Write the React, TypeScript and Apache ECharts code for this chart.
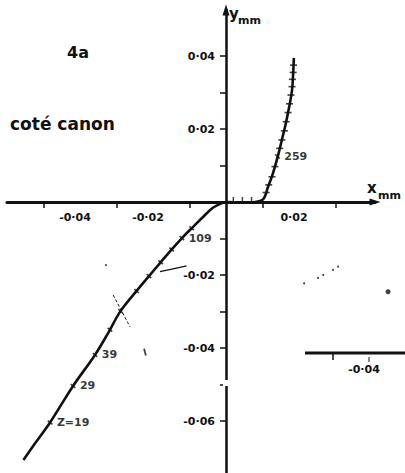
import React, { useEffect, useRef } from "react";
import * as echarts from "echarts";

// Displacement trajectory (x, y in mm), from Z=19 up to beyond station 259
const trajectory: [number, number][] = [
  [-0.0555, -0.0707], [-0.0523, -0.0661], [-0.0482, -0.0604], [-0.0419, -0.0504],
  [-0.0359, -0.0419], [-0.0323, -0.0359], [-0.0289, -0.0299], [-0.0242, -0.024],
  [-0.0211, -0.0203], [-0.0178, -0.0164], [-0.0148, -0.0129], [-0.0118, -0.0096],
  [-0.009, -0.0068], [-0.0063, -0.0041], [-0.0036, -0.0016], [-0.0016, -0.0005],
  [0, 0], [0.005, -0.0002], [0.0099, 0.0005], [0.0115, 0.0041], [0.0129, 0.008],
  [0.0143, 0.0129], [0.0153, 0.017], [0.0164, 0.0216], [0.0173, 0.026],
  [0.0181, 0.0307], [0.0184, 0.0353], [0.0186, 0.0395],
];

// Station marks along the lower branch
const lowerStations: [number, number][] = [
  [-0.0094, -0.0072], [-0.0149, -0.013], [-0.0179, -0.0165], [-0.0211, -0.0203],
  [-0.0245, -0.0244], [-0.0289, -0.0299], [-0.0318, -0.035],
];

// Station marks along the upper branch
const upperStations: [number, number][] = [
  [0.0185, 0.0375], [0.0184, 0.0355], [0.0182, 0.0336], [0.0181, 0.0316],
  [0.0178, 0.0293], [0.0174, 0.0269], [0.017, 0.0245], [0.0165, 0.022],
  [0.016, 0.0195], [0.0153, 0.017], [0.0147, 0.0147], [0.0134, 0.0097],
  [0.0126, 0.0069], [0.0117, 0.0047], [0.011, 0.0026],
];

// Station marks on the flat stretch near the origin
const flatStations: [number, number][] = [[0.002, 0.0007], [0.0045, 0.0007], [0.007, 0.0007]];

// Numbered stations
const stationNames = ["109", "39", "29", "Z=19", "259"];
const stationPoints: [number, number][] = [
  [-0.0121, -0.0099], [-0.0359, -0.0419], [-0.0419, -0.0504], [-0.0482, -0.0604], [0.0141, 0.0125],
];

// Hand-drawn pointer towards the curve, and the crossing stroke
const pointerLine: [number, number][] = [[-0.0181, -0.0191], [-0.0145, -0.0183], [-0.0108, -0.0175]];
const crossStroke: [number, number][] = [[-0.0309, -0.0255], [-0.0263, -0.0342]];

// Small stray marks on the sheet
const specks: [number, number][] = [
  [-0.0329, -0.0173], [0.0214, -0.0223], [0.0252, -0.0208], [0.0266, -0.02],
  [0.0293, -0.0186], [0.0307, -0.0177],
];
const blot: [number, number][] = [[0.0444, -0.0246]];
const nick: [number, number][] = [[-0.0222, -0.0411]];

// Axis ticks and labels
const xTickValues = [-0.05, -0.03, -0.01, 0.01, 0.03];
const xLabelValues = [-0.04, -0.02, 0.02];
const yTickValues = [0.04, 0.03, 0.02, 0.01, -0.01, -0.02, -0.03, -0.04, -0.05, -0.06];
const yLabelValues = [0.04, 0.02, -0.02, -0.04, -0.06];

const INK = "#111";
const FONT = "DejaVu Sans";
const PX_PER_MM = 3650;
const GRID = { left: 7, top: 10, width: 368, height: 463 };
const X_MIN = -0.06;
const ORIGIN_Y = 202;

const fmt = (v: number) => (v < 0 ? "-" : "") + Math.abs(v).toFixed(2).replace(".", "·");

export default function App() {
  const ref = useRef<HTMLDivElement>(null);

  useEffect(() => {
    if (!ref.current) return;
    const chart = echarts.init(ref.current, null, { renderer: "svg" });

    const xMax = X_MIN + GRID.width / PX_PER_MM;
    const yMax = (ORIGIN_Y - GRID.top) / PX_PER_MM;
    const yMin = yMax - GRID.height / PX_PER_MM;
    // axes cross at the origin: shift them in from the grid edges
    const originX = GRID.left - X_MIN * PX_PER_MM;
    const xAxisOffset = -(GRID.top + GRID.height - ORIGIN_Y);
    const yAxisOffset = -(originX - GRID.left);

    const tickMark = (size: number[], rotate: number) => ({
      type: "scatter",
      symbol: "rect",
      symbolSize: size,
      symbolRotate: rotate,
      itemStyle: { color: INK },
      silent: true,
      z: 4,
    });

    chart.setOption({
      animation: false,
      backgroundColor: "#fff",
      grid: {
        left: GRID.left,
        top: GRID.top,
        width: GRID.width,
        height: GRID.height,
        containLabel: false,
        outerBoundsMode: "none",
      },
      xAxis: {
        type: "value",
        min: X_MIN,
        max: xMax,
        position: "bottom",
        offset: xAxisOffset,
        axisLine: {
          onZero: false,
          symbol: ["none", "triangle"],
          symbolSize: [7, 11],
          lineStyle: { color: INK, width: 3 },
        },
        axisTick: {
          show: true,
          length: 6,
          customValues: xTickValues,
          lineStyle: { color: INK, width: 1.5 },
        },
        axisLabel: {
          customValues: xLabelValues,
          formatter: fmt,
          color: INK,
          fontFamily: FONT,
          fontWeight: "bold",
          fontSize: 11,
          margin: 10,
          padding: [0, 10, 0, 0],
        },
        splitLine: { show: false },
      },
      yAxis: {
        type: "value",
        min: yMin,
        max: yMax,
        position: "left",
        offset: yAxisOffset,
        axisLine: {
          onZero: false,
          symbol: ["none", "triangle"],
          symbolSize: [7, 11],
          lineStyle: { color: INK, width: 2.5 },
        },
        axisTick: {
          show: true,
          length: 6,
          customValues: yTickValues,
          lineStyle: { color: INK, width: 1.5 },
        },
        axisLabel: {
          customValues: yLabelValues,
          formatter: fmt,
          color: INK,
          fontFamily: FONT,
          fontWeight: "bold",
          fontSize: 11,
          margin: 11,
        },
        splitLine: { show: false },
      },
      series: [
        {
          type: "line",
          data: trajectory,
          smooth: 0.35,
          showSymbol: false,
          lineStyle: { color: INK, width: 2.6 },
          z: 3,
        },
        { ...tickMark([6, 1.6], -40), data: lowerStations },
        { ...tickMark([7, 1.6], 0), data: upperStations },
        { ...tickMark([1.4, 5], 0), data: flatStations },
        {
          ...tickMark([6, 1.6], -40),
          data: stationPoints.map((p, i) => ({ value: p, name: stationNames[i] })),
          label: {
            show: true,
            position: "right",
            distance: 4,
            formatter: "{b}",
            color: "#000",
            fontFamily: FONT,
            fontWeight: "bold",
            fontSize: 11,
          },
        },
        {
          type: "line",
          data: pointerLine,
          smooth: true,
          showSymbol: false,
          lineStyle: { color: INK, width: 1.3 },
          silent: true,
        },
        {
          type: "line",
          data: crossStroke,
          showSymbol: false,
          lineStyle: { color: INK, width: 1, type: [3, 2] },
          silent: true,
        },
        {
          type: "scatter",
          data: specks,
          symbol: "circle",
          symbolSize: 2,
          itemStyle: { color: INK },
          silent: true,
        },
        {
          type: "scatter",
          data: blot,
          clip: false,
          symbol: "circle",
          symbolSize: 5,
          itemStyle: { color: INK },
          silent: true,
        },
        {
          type: "scatter",
          data: nick,
          symbol: "rect",
          symbolSize: [1.8, 7],
          symbolRotate: 15,
          itemStyle: { color: INK },
          silent: true,
        },
      ],
      graphic: [
        {
          type: "text",
          x: 67,
          y: 52,
          style: { text: "4a", fill: INK, font: `bold 16px "${FONT}"`, verticalAlign: "middle" },
        },
        {
          type: "text",
          x: 10,
          y: 124,
          style: { text: "coté canon", fill: INK, font: `bold 17px "${FONT}"`, verticalAlign: "middle" },
        },
        {
          type: "text",
          x: 229,
          y: 14,
          style: { text: "y", fill: INK, font: `bold 15px "${FONT}"`, verticalAlign: "middle" },
        },
        {
          type: "text",
          x: 238,
          y: 20,
          style: { text: "mm", fill: INK, font: `bold 11px "${FONT}"`, verticalAlign: "middle" },
        },
        {
          type: "text",
          x: 367,
          y: 188,
          style: { text: "x", fill: INK, font: `bold 15px "${FONT}"`, verticalAlign: "middle" },
        },
        {
          type: "text",
          x: 378,
          y: 195,
          style: { text: "mm", fill: INK, font: `bold 11px "${FONT}"`, verticalAlign: "middle" },
        },
        // break in the vertical axis
        {
          type: "rect",
          z: 100,
          shape: { x: 223, y: 380, width: 6, height: 6 },
          style: { fill: "#fff" },
        },
        // fragment of a neighbouring axis
        {
          type: "line",
          shape: { x1: 305, y1: 353, x2: 405, y2: 353 },
          style: { stroke: INK, lineWidth: 3 },
        },
        {
          type: "line",
          shape: { x1: 333, y1: 353, x2: 333, y2: 360 },
          style: { stroke: INK, lineWidth: 1.5 },
        },
        {
          type: "line",
          shape: { x1: 369, y1: 357, x2: 369, y2: 362 },
          style: { stroke: INK, lineWidth: 1 },
        },
        {
          type: "text",
          x: 364,
          y: 369,
          style: {
            text: "-0·04",
            fill: INK,
            font: `bold 11px "${FONT}"`,
            align: "center",
            verticalAlign: "middle",
          },
        },
      ],
    });

    return () => chart.dispose();
  }, []);

  return (
    <div
      ref={ref}
      style={{ position: "fixed", left: 0, top: 0, width: 405, height: 473, background: "#fff" }}
    />
  );
}
